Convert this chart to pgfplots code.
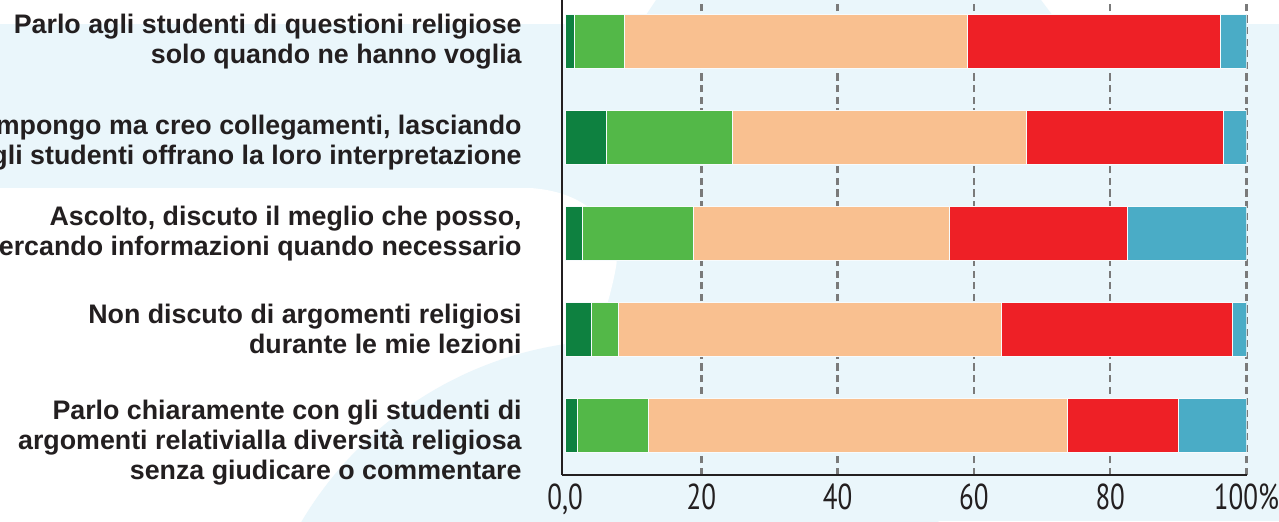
\documentclass[border=0pt]{standalone}
\usepackage{pgfplots}
\pgfplotsset{compat=1.18}
\usepackage{fontspec}
\setmainfont{Liberation Sans}
\newfontfamily\tickfont[FakeStretch=0.75]{PT Sans}
\definecolor{dkgreen}{HTML}{0E8140}
\definecolor{ltgreen}{HTML}{53B848}
\definecolor{peach}{HTML}{F9C090}
\definecolor{redbar}{HTML}{EE2026}
\definecolor{bluebar}{HTML}{4AACC6}
\definecolor{bgblue}{HTML}{EAF6FB}
\definecolor{ink}{HTML}{231F20}
\definecolor{gridgray}{HTML}{7A7A7A}
\begin{document}
\begin{tikzpicture}
\path[use as bounding box] (0pt,-260.5pt) rectangle (639.5pt,0pt);
\clip (0pt,-260.5pt) rectangle (639.5pt,0pt);
\begin{scope}[x=0.5pt,y=-0.5pt]
  \fill[bgblue] (0,0) rectangle (1279,521);
  \fill[white] (0,0) rectangle (1279,24);
  \fill[bgblue] (656,0) -- (1041,0) -- (1059,24) -- (640,24) -- cycle;
  \fill[white] (0,188) -- (530,188) .. controls (595,192) and (622,235) .. (616,267)
     .. controls (610,300) and (600,330) .. (590,342) -- (590,521) -- (0,521) -- cycle;
  \fill[bgblue] (620,710) circle (370);
\end{scope}
\begin{axis}[
  at={(281pt,0pt)}, anchor=north west,
  scale only axis, width=342.25pt, height=237.5pt,
  xbar stacked, bar width=27pt,
  xmin=-0.45, xmax=100, ymin=-0.52, ymax=4.43,
  axis x line*=bottom, axis y line*=left,
  axis line style={ink, line width=1.25pt},
  xtick={20,40,60,80,100},
  xticklabels={20,40,60,80,100\%},
  extra x ticks={0}, extra x tick labels={0{,}0},
  extra x tick style={grid=none},
  xmajorgrids, major grid style={gridgray, line width=1.15pt, dash pattern=on 3.6pt off 2.2pt},
  major tick length=0pt,
  ytick={0,1,2,3,4},
  yticklabels={
    {Parlo chiaramente con gli studenti di\\argomenti relativialla diversità religiosa\\senza giudicare o commentare},
    {Non discuto di argomenti religiosi\\durante le mie lezioni},
    {Ascolto, discuto il meglio che posso,\\cercando informazioni quando necessario},
    {Non impongo ma creo collegamenti, lasciando\\che gli studenti offrano la loro interpretazione},
    {Parlo agli studenti di questioni religiose\\solo quando ne hanno voglia}},
  yticklabel style={align=right, anchor=east, inner sep=0pt, xshift=-20pt, text=ink,
    font=\fontsize{13.4}{15}\selectfont\bfseries,
    yshift={-9pt*(\ticknum==0)-2.5pt*(\ticknum==3)}},
  xticklabel style={text=ink, font=\tickfont\fontsize{18}{19}\selectfont, yshift=-1pt},
]
\addplot[fill=dkgreen, draw=white!60!bgblue, line width=0.4pt] coordinates {(1.8,0) (3.9,1) (2.5,2) (6.0,3) (1.4,4)};
\addplot[fill=ltgreen, draw=white!60!bgblue, line width=0.4pt] coordinates {(10.4,0) (4.0,1) (16.3,2) (18.5,3) (7.3,4)};
\addplot[fill=peach, draw=white!60!bgblue, line width=0.4pt] coordinates {(61.5,0) (56.1,1) (37.6,2) (43.2,3) (50.3,4)};
\addplot[fill=redbar, draw=white!60!bgblue, line width=0.4pt] coordinates {(16.3,0) (34.0,1) (26.1,2) (28.9,3) (37.2,4)};
\addplot[fill=bluebar, draw=white!60!bgblue, line width=0.4pt] coordinates {(10.0,0) (2.0,1) (17.5,2) (3.4,3) (3.8,4)};
\end{axis}
\end{tikzpicture}
\end{document}
